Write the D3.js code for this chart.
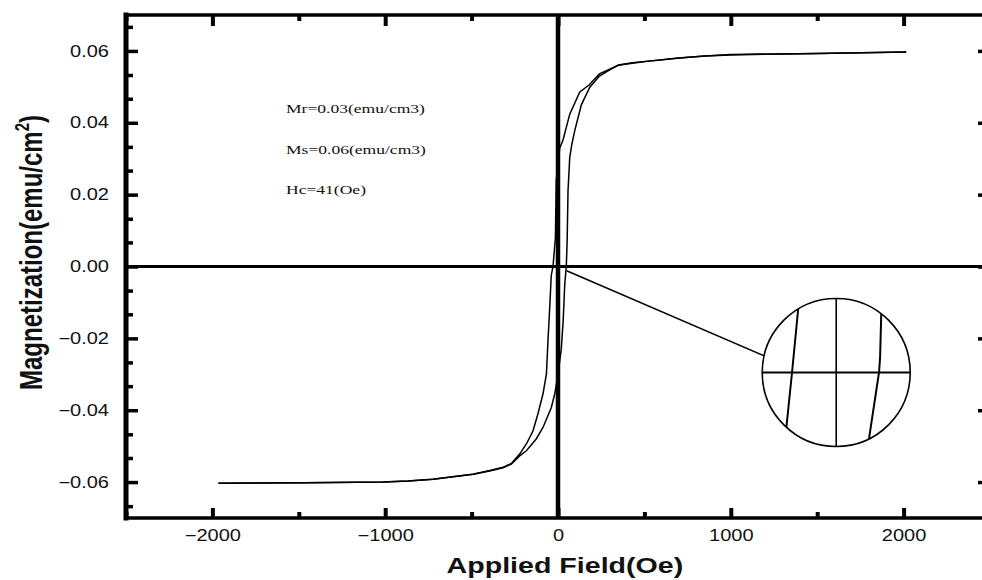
<!DOCTYPE html>
<html>
<head>
<meta charset="utf-8">
<script src="https://cdn.jsdelivr.net/npm/d3@7"></script>
<style>
  body { margin: 0; background: #fff; }
  svg { display: block; }
</style>
</head>
<body>
<script>
// tick values
const xTicks = [-2000, -1000, 0, 1000, 2000];
const xMinor = [-2500, -1500, -500, 500, 1500, 2500];
const yTicks = [-0.06, -0.04, -0.02, 0, 0.02, 0.04, 0.06];
const yMinor = [-0.0667, -0.0533, -0.0467, -0.0333, -0.0267, -0.0133, -0.0067,
                0.0067, 0.0133, 0.0267, 0.0333, 0.0467, 0.0533, 0.0667];

// descending branch (2000 -> -2000 Oe)
const descField = [2015, 1500, 1000, 850, 700, 550, 430, 350, 280, 240, 180, 126, 68, 29, 10, -10, -15, -29,
                   -39, -48, -58, -67, -87, -116, -145, -183, -222, -270, -318, -395, -492, -608, -723, -868,
                   -1013, -1467, -1965];
const descMoment = [0.0597, 0.0593, 0.0589, 0.0586, 0.0580, 0.0573, 0.0566, 0.0560, 0.0545, 0.0536, 0.0505,
                    0.0486, 0.0424, 0.0352, 0.0330, 0.0240, 0.0080, 0.0000, -0.0025, -0.0114, -0.0207, -0.0299,
                    -0.0355, -0.0410, -0.0458, -0.0494, -0.0522, -0.0548, -0.0559, -0.0568, -0.0578, -0.0585,
                    -0.0592, -0.0597, -0.0600, -0.0602, -0.0603];

// ascending branch (-2000 -> 2000 Oe)
const ascField = [-1965, -1467, -1013, -868, -723, -608, -492, -395, -318, -270, -222, -183, -126, -87, -39, -19,
                  0, 19, 30, 39, 48, 53, 58, 68, 80, 97, 135, 184, 240, 280, 350, 430, 550, 700, 850, 1000,
                  1500, 2015];
const ascMoment = [-0.0603, -0.0602, -0.0600, -0.0597, -0.0592, -0.0585, -0.0578, -0.0569, -0.0560, -0.0550,
                   -0.0527, -0.0513, -0.0480, -0.0448, -0.0393, -0.0355, -0.0300, -0.0230, -0.0150, -0.0050,
                   0.0000, 0.0072, 0.0211, 0.0304, 0.0340, 0.0378, 0.0450, 0.0499, 0.0530, 0.0542, 0.0561,
                   0.0567, 0.0573, 0.0580, 0.0586, 0.0590, 0.0593, 0.0597];

// magnified view around the origin
const insetDescField = [-49, -41.8, -35];
const insetDescMoment = [-0.002, 0, 0.002];
const insetAscField = [30, 31.5, 40.5, 41.5, 43];
const insetAscMoment = [-0.002, -0.0017, 0, 0.0004, 0.002];

const notes = ["Mr=0.03(emu/cm3)", "Ms=0.06(emu/cm3)", "Hc=41(Oe)"];

const width = 982, height = 580;
const pLeft = 126, pRight = 990, pTop = 15, pBottom = 518;

const svg = d3.select("body").append("svg")
  .attr("width", width)
  .attr("height", height);

const x = d3.scaleLinear().domain([-2500, 2500]).range([pLeft, pRight]);
const y = d3.scaleLinear().domain([-0.07, 0.07]).range([pBottom, pTop]);

const sans = "'Liberation Sans', Arial, sans-serif";

svg.append("clipPath").attr("id", "plot")
  .append("rect").attr("x", pLeft).attr("y", pTop)
  .attr("width", pRight - pLeft).attr("height", pBottom - pTop);

// zero lines
svg.append("line")
  .attr("x1", pLeft).attr("x2", pRight)
  .attr("y1", y(0)).attr("y2", y(0))
  .attr("stroke", "#000").attr("stroke-width", 3);
svg.append("line")
  .attr("x1", x(0)).attr("x2", x(0))
  .attr("y1", pTop).attr("y2", pBottom)
  .attr("stroke", "#000").attr("stroke-width", 4.5);

// curves
const line = d3.line().x(d => x(d[0])).y(d => y(d[1]));
const curves = svg.append("g").attr("clip-path", "url(#plot)");
curves.append("path")
  .datum(descField.map((h, i) => [h, descMoment[i]]))
  .attr("d", line)
  .attr("fill", "none").attr("stroke", "#000").attr("stroke-width", 1.5);
curves.append("path")
  .datum(ascField.map((h, i) => [h, ascMoment[i]]))
  .attr("d", line)
  .attr("fill", "none").attr("stroke", "#000").attr("stroke-width", 1.5);

// axes: major ticks with labels, minor ticks without
function styleTicks(g, w) {
  g.select(".domain").remove();
  g.selectAll(".tick line").attr("stroke", "#000").attr("stroke-width", w);
}

const gLeft = svg.append("g").attr("transform", `translate(${pLeft},0)`)
  .call(d3.axisLeft(y).tickValues(yTicks).tickFormat(d3.format(".2f")).tickSize(-12).tickPadding(17))
  .call(styleTicks, 3.5);
svg.append("g").attr("transform", `translate(${pLeft},0)`)
  .call(d3.axisLeft(y).tickValues(yMinor).tickFormat("").tickSize(-7))
  .call(styleTicks, 3.5);
svg.append("g").attr("transform", `translate(${pRight},0)`)
  .call(d3.axisRight(y).tickValues(yTicks).tickFormat("").tickSize(-12))
  .call(styleTicks, 3.5);
svg.append("g").attr("transform", `translate(${pRight},0)`)
  .call(d3.axisRight(y).tickValues(yMinor).tickFormat("").tickSize(-7))
  .call(styleTicks, 3.5);

const gBottom = svg.append("g").attr("transform", `translate(0,${pBottom})`)
  .call(d3.axisBottom(x).tickValues(xTicks).tickFormat(d3.format("d")).tickSize(-10).tickPadding(12))
  .call(styleTicks, 4);
svg.append("g").attr("transform", `translate(0,${pBottom})`)
  .call(d3.axisBottom(x).tickValues(xMinor).tickFormat("").tickSize(-6))
  .call(styleTicks, 4);
svg.append("g").attr("transform", `translate(0,${pTop})`)
  .call(d3.axisTop(x).tickValues(xTicks).tickFormat("").tickSize(-11))
  .call(styleTicks, 4);
svg.append("g").attr("transform", `translate(0,${pTop})`)
  .call(d3.axisTop(x).tickValues(xMinor).tickFormat("").tickSize(-6))
  .call(styleTicks, 4);

gLeft.selectAll(".tick text")
  .attr("x", 0)
  .attr("transform", "translate(-17,0) scale(1.25,1)")
  .attr("font-family", sans).attr("font-size", 16).attr("fill", "#111");
gBottom.selectAll(".tick text")
  .attr("y", 0)
  .attr("transform", "translate(0,12) scale(1.25,1)")
  .attr("font-family", sans).attr("font-size", 16).attr("fill", "#111");

// frame
const frame = svg.append("g").attr("stroke", "#000").attr("stroke-linecap", "square");
frame.append("line").attr("x1", pLeft).attr("x2", pRight).attr("y1", pTop).attr("y2", pTop).attr("stroke-width", 3.5);
frame.append("line").attr("x1", pLeft).attr("x2", pRight).attr("y1", pBottom).attr("y2", pBottom).attr("stroke-width", 3.5);
frame.append("line").attr("x1", pLeft).attr("x2", pLeft).attr("y1", pTop).attr("y2", pBottom).attr("stroke-width", 5);
frame.append("line").attr("x1", pRight).attr("x2", pRight).attr("y1", pTop).attr("y2", pBottom).attr("stroke-width", 5);

// annotations
svg.append("g").selectAll("text")
  .data(notes)
  .join("text")
  .attr("transform", (d, i) => `translate(286,${113 + i * 40.5}) scale(1.3,1)`)
  .attr("font-family", "'Liberation Serif', 'Times New Roman', serif")
  .attr("font-size", 13.5)
  .attr("fill", "#111")
  .text(d => d);

// inset circle with magnified loop
const cx = x(1610), cy = y(-0.0295), r = 74;
const ix = d3.scaleLinear().domain([-70, 70]).range([cx - r, cx + r]);
const iy = d3.scaleLinear().domain([-0.002, 0.002]).range([cy + r, cy - r]);

const leadAngle = 193 * Math.PI / 180;
svg.append("line")
  .attr("x1", x(50)).attr("y1", y(-0.0012))
  .attr("x2", cx + r * Math.cos(leadAngle)).attr("y2", cy + r * Math.sin(leadAngle))
  .attr("stroke", "#000").attr("stroke-width", 1.5);

svg.append("clipPath").attr("id", "lens")
  .append("circle").attr("cx", cx).attr("cy", cy).attr("r", r);

svg.append("circle")
  .attr("cx", cx).attr("cy", cy).attr("r", r)
  .attr("fill", "#fff").attr("stroke", "#000").attr("stroke-width", 1.6);

const lens = svg.append("g").attr("clip-path", "url(#lens)");
lens.append("line")
  .attr("x1", cx - r).attr("x2", cx + r).attr("y1", iy(0)).attr("y2", iy(0))
  .attr("stroke", "#000").attr("stroke-width", 1.8);
lens.append("line")
  .attr("x1", ix(0)).attr("x2", ix(0)).attr("y1", cy - r).attr("y2", cy + r)
  .attr("stroke", "#000").attr("stroke-width", 1.6);

const insetLine = d3.line().x(d => ix(d[0])).y(d => iy(d[1]));
lens.append("path")
  .datum(insetDescField.map((h, i) => [h, insetDescMoment[i]]))
  .attr("d", insetLine)
  .attr("fill", "none").attr("stroke", "#000").attr("stroke-width", 2);
lens.append("path")
  .datum(insetAscField.map((h, i) => [h, insetAscMoment[i]]))
  .attr("d", insetLine)
  .attr("fill", "none").attr("stroke", "#000").attr("stroke-width", 2);

// axis titles
svg.append("text")
  .attr("transform", `translate(${x(40)},573) scale(1.3,1)`)
  .attr("text-anchor", "middle")
  .attr("font-family", sans).attr("font-weight", "bold").attr("font-size", 22)
  .attr("fill", "#111")
  .text("Applied Field(Oe)");

const yTitle = svg.append("text")
  .attr("transform", `translate(42,${(pTop + pBottom) / 2 - 14}) scale(1.3,1) rotate(-90)`)
  .attr("text-anchor", "middle")
  .attr("font-family", sans).attr("font-weight", "bold").attr("font-size", 24)
  .attr("fill", "#111");
yTitle.append("tspan").text("Magnetization(emu/cm");
yTitle.append("tspan").attr("font-size", 15).attr("dy", -10).text("2");
yTitle.append("tspan").attr("dy", 10).text(")");
</script>
</body>
</html>
